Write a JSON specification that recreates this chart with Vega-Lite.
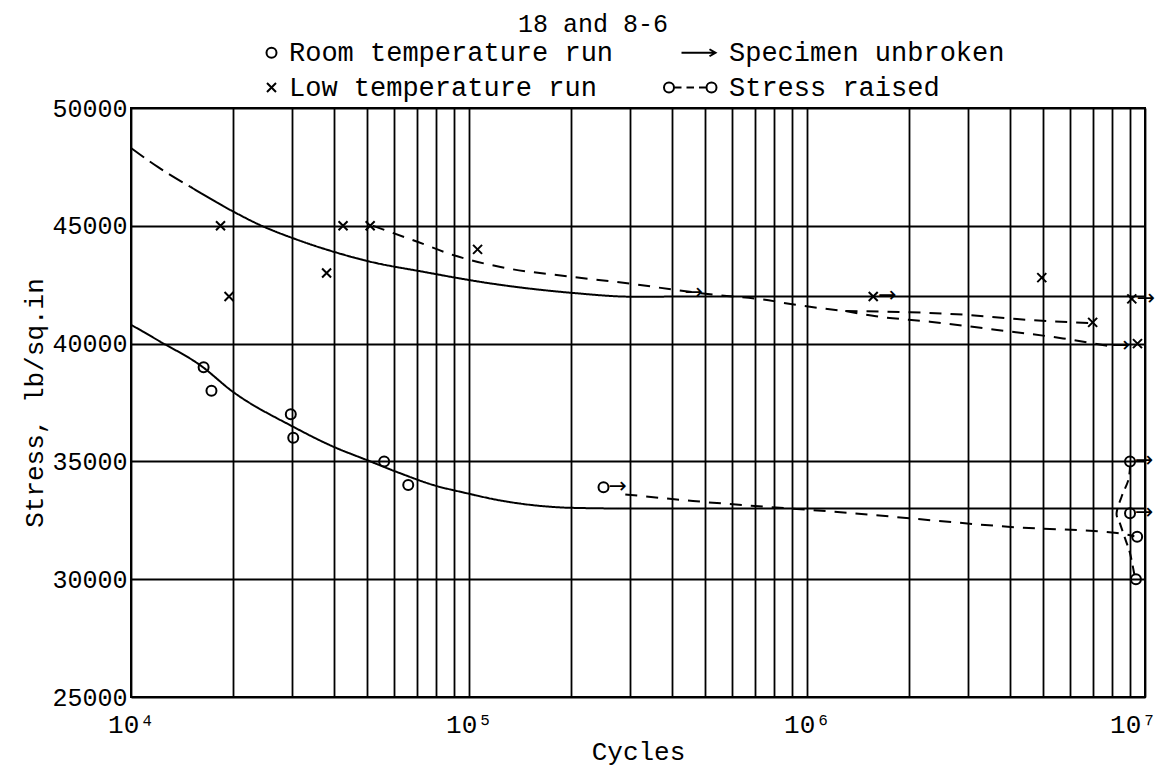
{
  "$schema": "https://vega.github.io/schema/vega-lite/v6.json",
  "width": 1014,
  "height": 589,
  "autosize": {"type": "none"},
  "padding": {"left": 131, "top": 108, "right": 13, "bottom": 81},
  "background": "white",
  "title": {"text": "18 and 8-6", "font": "Liberation Mono", "fontSize": 25, "fontWeight": "normal", "color": "black", "anchor": "middle", "dx": -45, "offset": 2},
  "datasets": {
    "lines": [
      {"series": "roomfit", "seq": 1, "x": 10000, "y": 40800},
      {"series": "roomfit", "seq": 2, "x": 12180, "y": 40090},
      {"series": "roomfit", "seq": 3, "x": 16000, "y": 39090},
      {"series": "roomfit", "seq": 4, "x": 20000, "y": 37960},
      {"series": "roomfit", "seq": 5, "x": 30100, "y": 36480},
      {"series": "roomfit", "seq": 6, "x": 39600, "y": 35630},
      {"series": "roomfit", "seq": 7, "x": 49800, "y": 35060},
      {"series": "roomfit", "seq": 8, "x": 62500, "y": 34500},
      {"series": "roomfit", "seq": 9, "x": 78300, "y": 34000},
      {"series": "roomfit", "seq": 10, "x": 98400, "y": 33650},
      {"series": "roomfit", "seq": 11, "x": 124000, "y": 33340},
      {"series": "roomfit", "seq": 12, "x": 160000, "y": 33120},
      {"series": "roomfit", "seq": 13, "x": 200000, "y": 33030},
      {"series": "roomfit", "seq": 14, "x": 300000, "y": 33000},
      {"series": "roomfit", "seq": 15, "x": 10000000, "y": 33000},
      {"series": "lowfit_start", "seq": 1, "x": 10000, "y": 48300},
      {"series": "lowfit_start", "seq": 2, "x": 12000, "y": 47500},
      {"series": "lowfit_start", "seq": 3, "x": 14960, "y": 46660},
      {"series": "lowfit", "seq": 1, "x": 14960, "y": 46660},
      {"series": "lowfit", "seq": 2, "x": 20100, "y": 45600},
      {"series": "lowfit", "seq": 3, "x": 24100, "y": 45030},
      {"series": "lowfit", "seq": 4, "x": 30600, "y": 44440},
      {"series": "lowfit", "seq": 5, "x": 40600, "y": 43860},
      {"series": "lowfit", "seq": 6, "x": 50900, "y": 43480},
      {"series": "lowfit", "seq": 7, "x": 73100, "y": 43050},
      {"series": "lowfit", "seq": 8, "x": 115000, "y": 42560},
      {"series": "lowfit", "seq": 9, "x": 203000, "y": 42150},
      {"series": "lowfit", "seq": 10, "x": 306000, "y": 41990},
      {"series": "lowfit", "seq": 11, "x": 500000, "y": 42000},
      {"series": "lowfit", "seq": 12, "x": 10000000, "y": 42000},
      {"series": "lowdash", "seq": 1, "x": 52000, "y": 45000},
      {"series": "lowdash", "seq": 2, "x": 70700, "y": 44310},
      {"series": "lowdash", "seq": 3, "x": 89700, "y": 43760},
      {"series": "lowdash", "seq": 4, "x": 124000, "y": 43250},
      {"series": "lowdash", "seq": 5, "x": 203000, "y": 42830},
      {"series": "lowdash", "seq": 6, "x": 306000, "y": 42530},
      {"series": "lowdash", "seq": 7, "x": 412000, "y": 42270},
      {"series": "lowdash", "seq": 8, "x": 542000, "y": 42060},
      {"series": "lowdash", "seq": 9, "x": 726000, "y": 41890},
      {"series": "lowdash", "seq": 10, "x": 933000, "y": 41640},
      {"series": "lowdash", "seq": 11, "x": 1300000, "y": 41380},
      {"series": "lowdash_up", "seq": 1, "x": 1300000, "y": 41380},
      {"series": "lowdash_up", "seq": 2, "x": 2020000, "y": 41330},
      {"series": "lowdash_up", "seq": 3, "x": 2900000, "y": 41230},
      {"series": "lowdash_up", "seq": 4, "x": 4180000, "y": 41040},
      {"series": "lowdash_up", "seq": 5, "x": 6800000, "y": 40870},
      {"series": "lowdash_lo", "seq": 1, "x": 1300000, "y": 41380},
      {"series": "lowdash_lo", "seq": 2, "x": 1600000, "y": 41160},
      {"series": "lowdash_lo", "seq": 3, "x": 2310000, "y": 40930},
      {"series": "lowdash_lo", "seq": 4, "x": 3650000, "y": 40580},
      {"series": "lowdash_lo", "seq": 5, "x": 5720000, "y": 40220},
      {"series": "lowdash_lo", "seq": 6, "x": 8000000, "y": 39870},
      {"series": "roomdash", "seq": 1, "x": 290000, "y": 33600},
      {"series": "roomdash", "seq": 2, "x": 460000, "y": 33320},
      {"series": "roomdash", "seq": 3, "x": 1340000, "y": 32810},
      {"series": "roomdash", "seq": 4, "x": 4180000, "y": 32200},
      {"series": "roomdash", "seq": 5, "x": 8260000, "y": 31960},
      {"series": "roomdash", "seq": 6, "x": 9300000, "y": 31820}
    ],
    "raised": [
      {"seq": 1, "x": 9300000, "y": 30200},
      {"seq": 2, "x": 9030000, "y": 31100},
      {"seq": 3, "x": 8730000, "y": 31730},
      {"seq": 4, "x": 8430000, "y": 32370},
      {"seq": 5, "x": 8240000, "y": 32800},
      {"seq": 6, "x": 8530000, "y": 33510},
      {"seq": 7, "x": 8930000, "y": 34210},
      {"seq": 8, "x": 9030000, "y": 34800}
    ],
    "points": [
      {"kind": "Room temperature run", "x": 16400, "y": 39000},
      {"kind": "Room temperature run", "x": 17300, "y": 38000},
      {"kind": "Room temperature run", "x": 29700, "y": 37000},
      {"kind": "Room temperature run", "x": 30200, "y": 36000},
      {"kind": "Room temperature run", "x": 56100, "y": 35000},
      {"kind": "Room temperature run", "x": 66100, "y": 34000},
      {"kind": "Room temperature run", "x": 250000, "y": 33900},
      {"kind": "Room temperature run", "x": 9030000, "y": 35000},
      {"kind": "Room temperature run", "x": 9030000, "y": 32800},
      {"kind": "Room temperature run", "x": 9480000, "y": 31800},
      {"kind": "Room temperature run", "x": 9400000, "y": 30000},
      {"kind": "Low temperature run", "x": 18400, "y": 45000},
      {"kind": "Low temperature run", "x": 19500, "y": 42000},
      {"kind": "Low temperature run", "x": 37900, "y": 43000},
      {"kind": "Low temperature run", "x": 42400, "y": 45000},
      {"kind": "Low temperature run", "x": 51000, "y": 45000},
      {"kind": "Low temperature run", "x": 106000, "y": 44000},
      {"kind": "Low temperature run", "x": 1570000, "y": 42000},
      {"kind": "Low temperature run", "x": 4950000, "y": 42800},
      {"kind": "Low temperature run", "x": 7000000, "y": 40900},
      {"kind": "Low temperature run", "x": 9140000, "y": 41900},
      {"kind": "Low temperature run", "x": 9500000, "y": 40000}
    ],
    "arrows": [
      {"x": 250000, "y": 33900},
      {"x": 9030000, "y": 35000},
      {"x": 9030000, "y": 32800},
      {"x": 1570000, "y": 42000},
      {"x": 9140000, "y": 41900},
      {"x": 420000, "y": 42150},
      {"x": 7700000, "y": 39900}
    ]
  },
  "layer": [
    {
      "data": {"name": "lines"},
      "mark": {"type": "line", "color": "black", "strokeWidth": 2, "interpolate": "monotone"},
      "encoding": {
        "x": {
          "field": "x", "type": "quantitative",
          "scale": {"type": "log", "domain": [10000, 10000000], "nice": false},
          "axis": {
            "title": "Cycles",
            "values": [10000, 20000, 30000, 40000, 50000, 60000, 70000, 80000, 90000, 100000, 200000, 300000, 400000, 500000, 600000, 700000, 800000, 900000, 1000000, 2000000, 3000000, 4000000, 5000000, 6000000, 7000000, 8000000, 9000000, 10000000],
            "labelExpr": "datum.value == 10000 ? '10⁴' : datum.value == 100000 ? '10⁵' : datum.value == 1000000 ? '10⁶' : datum.value == 10000000 ? '10⁷' : ''",
            "labelOffset": {"condition": {"test": "datum.value == 10000000", "value": -12}, "value": 0},
            "labelFlush": false,
            "labelOverlap": false,
            "labelBound": false,
            "labelFontSize": 26,
            "labelPadding": 14,
            "titlePadding": 1
          }
        },
        "y": {
          "field": "y", "type": "quantitative",
          "scale": {"domain": [25000, 50000], "nice": false, "zero": false},
          "axis": {
            "title": "Stress, lb/sq.in",
            "values": [25000, 30000, 35000, 40000, 45000, 50000],
            "format": "d",
            "labelFontSize": 25,
            "labelPadding": 4,
            "titlePadding": 4
          }
        },
        "detail": {"field": "series", "type": "nominal"},
        "strokeDash": {
          "field": "series", "type": "nominal",
          "scale": {"domain": ["roomfit", "lowfit_start", "lowfit", "lowdash", "lowdash_up", "lowdash_lo", "roomdash"], "range": [[1, 0], [16, 7], [1, 0], [12, 9], [12, 9], [12, 9], [12, 9]]},
          "legend": null
        },
        "order": {"field": "seq", "type": "quantitative"}
      }
    },
    {
      "data": {"name": "raised"},
      "mark": {"type": "line", "color": "black", "strokeWidth": 2, "interpolate": "cardinal", "strokeDash": [9, 6]},
      "encoding": {
        "x": {"field": "x", "type": "quantitative"},
        "y": {"field": "y", "type": "quantitative"},
        "order": {"field": "seq", "type": "quantitative"}
      }
    },
    {
      "data": {"name": "points"},
      "mark": {"type": "point", "filled": false, "color": "black", "strokeWidth": 2, "size": 100, "opacity": 1},
      "encoding": {
        "x": {"field": "x", "type": "quantitative"},
        "y": {"field": "y", "type": "quantitative"},
        "shape": {
          "field": "kind", "type": "nominal",
          "scale": {
            "domain": ["Room temperature run", "Low temperature run", "Specimen unbroken", "Stress raised"],
            "range": ["circle", "M-0.9,-0.9L0.9,0.9M-0.9,0.9L0.9,-0.9", "M-6,0L0.8,0M-0.4,-0.7L0.8,0L-0.4,0.7", "M-9.5,0a1,1 0 1,0 2,0a1,1 0 1,0 -2,0M-7.5,0L-6,0M-5,0L-3.5,0M-2.5,0L-1,0M-1,0a1,1 0 1,0 2,0a1,1 0 1,0 -2,0"]
          },
          "legend": {
            "title": null,
            "orient": "none",
            "legendX": 127,
            "legendY": -69,
            "columns": 2,
            "columnPadding": 46,
            "rowPadding": 7,
            "padding": 0,
            "symbolSize": 100,
            "symbolStrokeWidth": 2,
            "symbolStrokeColor": "black",
            "symbolFillColor": "transparent",
            "labelFont": "Liberation Mono",
            "labelFontSize": 27,
            "labelColor": "black",
            "labelOffset": 4,
            "labelLimit": 500
          }
        }
      }
    },
    {
      "data": {"name": "arrows"},
      "mark": {"type": "text", "text": "→", "font": "DejaVu Sans", "fontSize": 22, "align": "left", "baseline": "middle", "dx": 5, "dy": -1, "color": "black"},
      "encoding": {
        "x": {"field": "x", "type": "quantitative"},
        "y": {"field": "y", "type": "quantitative"}
      }
    }
  ],
  "config": {
    "view": {"stroke": "black", "strokeWidth": 2},
    "axis": {
      "grid": true,
      "gridColor": "black",
      "gridWidth": 1.8,
      "gridOpacity": 1,
      "domain": false,
      "ticks": false,
      "labelFont": "Liberation Mono",
      "labelColor": "black",
      "titleFont": "Liberation Mono",
      "titleFontSize": 26,
      "titleFontWeight": "normal",
      "titleColor": "black"
    }
  }
}
